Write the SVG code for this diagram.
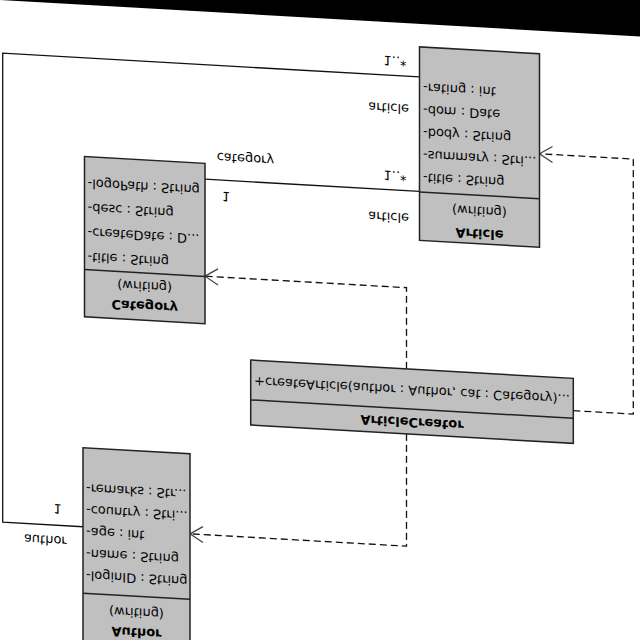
<svg xmlns="http://www.w3.org/2000/svg" width="640" height="640" viewBox="0 0 640 640">
<defs>
<style>
.box{fill:#c0c0c0;stroke:#222;stroke-width:1.5}
.div{stroke:#222;stroke-width:1.5}
.t{font-family:"DejaVu Sans","Liberation Sans",sans-serif;font-size:13px;fill:#000}
.n{font-weight:bold;text-anchor:middle}
.c{text-anchor:middle}
.e{text-anchor:end}
.assoc{fill:none;stroke:#111;stroke-width:1.3}
.dep{fill:none;stroke:#111;stroke-width:1.3;stroke-dasharray:7 4;marker-end:url(#open)}
</style>
<marker id="open" markerUnits="userSpaceOnUse" markerWidth="16" markerHeight="20" refX="14" refY="9" orient="auto" overflow="visible"><path d="M1,1 L14,9 L1,17" fill="none" stroke="#444" stroke-width="1.3"/></marker>
</defs>
<rect width="640" height="640" fill="#000"/>
<g transform="matrix(1 0.057 0 -1 0 640)">
<rect width="640" height="640" fill="#fff"/>
<g id="connectors">
<polyline class="assoc" points="83,118 2.7,118 2.7,587 419.5,587"/>
<line class="assoc" x1="205" y1="472.5" x2="419.5" y2="472.5"/>
<polyline class="dep" points="406.5,294.3 406.5,375.5 205,375.5"/>
<polyline class="dep" points="406.5,229.3 406.5,117 190,117"/>
<polyline class="dep" points="573.3,262 633.3,262 633.3,517 539.5,517"/>
<text class="t e" x="66.7" y="107">author</text>
<text class="t" x="53.5" y="139">1</text>
<text class="t" x="383.5" y="606">1..*</text>
<text class="t e" x="409" y="558.7">article</text>
<text class="t" x="216.7" y="499.5">category</text>
<text class="t" x="222" y="461">1</text>
<text class="t" x="383.5" y="491.3">1..*</text>
<text class="t e" x="409" y="449.6">article</text>
</g>
<g id="Category">
<rect class="box" x="84.5" y="328" width="120.5" height="160.3"/>
<line class="div" x1="84.5" y1="375.3" x2="205" y2="375.3"/>
<text class="t n" x="144.75" y="346.5">Category</text>
<text class="t c" x="144.75" y="366.5">(writing)</text>
<text class="t" x="87.5" y="392.5">-title : String</text>
<text class="t" x="87.5" y="417">-createDate : D...</text>
<text class="t" x="87.5" y="441.5">-desc : String</text>
<text class="t" x="87.5" y="466">-logoPath : String</text>
</g>
<g id="Article">
<rect class="box" x="419.5" y="423.5" width="120" height="193.5"/>
<line class="div" x1="419.5" y1="472" x2="539.5" y2="472"/>
<text class="t n" x="479.5" y="438">Article</text>
<text class="t c" x="479.5" y="460.7">(writing)</text>
<text class="t" x="423" y="491">-title : String</text>
<text class="t" x="423" y="513.5">-summary : Stri...</text>
<text class="t" x="423" y="536">-body : String</text>
<text class="t" x="423" y="558.5">-dom : Date</text>
<text class="t" x="423" y="581">-rating : int</text>
</g>
<g id="Author">
<rect class="box" x="83" y="3.5" width="107" height="193.5"/>
<line class="div" x1="83" y1="51.5" x2="190" y2="51.5"/>
<text class="t n" x="136.5" y="19.6">Author</text>
<text class="t c" x="136.5" y="39.6">(writing)</text>
<text class="t" x="86" y="74">-loginID : String</text>
<text class="t" x="86" y="95.75">-name : String</text>
<text class="t" x="86" y="117.5">-age : int</text>
<text class="t" x="86" y="139.25">-country : Stri...</text>
<text class="t" x="86" y="161">-remarks : Str...</text>
</g>
<g id="ArticleCreator">
<rect class="box" x="250.7" y="229.3" width="322.6" height="65"/>
<line class="div" x1="250.7" y1="254.4" x2="573.3" y2="254.4"/>
<text class="t n" x="412" y="245.5">ArticleCreator</text>
<text class="t" x="254" y="277.5">+createArticle(author : Author, cat : Category)...</text>
</g>
</g>
</svg>
